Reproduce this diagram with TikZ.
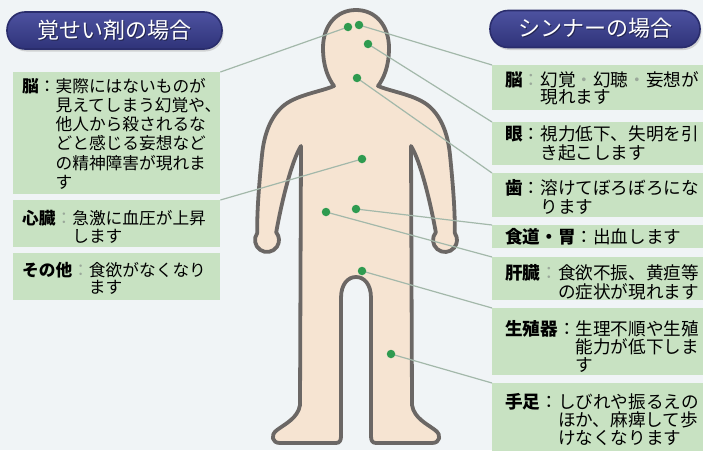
\documentclass[tikz,border=0pt]{standalone}
\usepackage{fontspec}
\setmainfont{Noto Sans CJK JP}
\usetikzlibrary{shadows}

\definecolor{bgc}{HTML}{F0F4F6}
\definecolor{skin}{HTML}{F6E4D2}
\definecolor{outlinec}{HTML}{6B6765}
\definecolor{boxg}{HTML}{C8E2C2}
\definecolor{dotg}{HTML}{2F9B50}
\definecolor{connc}{HTML}{A3B8AA}
\definecolor{pilltop}{HTML}{4D52A0}
\definecolor{pillmid}{HTML}{7479BF}
\definecolor{pillbot}{HTML}{2F3379}
\definecolor{pillrim}{HTML}{2A2D6C}
\definecolor{pillshade}{HTML}{23254F}
\definecolor{faintc}{HTML}{9AA89A}

% organ label with colon, and an invisible copy for indenting follow-up lines
\newcommand\organ[1]{\textbf{#1}：}
\newcommand\organf[1]{\textbf{#1}\textcolor{faintc}{：}}
\newcommand\organpad[1]{\phantom{\textbf{#1}：}}
\newcommand\faintdot{\textcolor{faintc}{・}}
% white heading text with a dark offset shadow
\newcommand\shtxt[1]{\rlap{\kern1.3pt\raisebox{-1.3pt}{\textcolor{pillshade}{#1}}}#1}

\pgfdeclarelayer{back}
\pgfdeclarelayer{front}
\pgfsetlayers{back,main,front}

\begin{document}
\begin{tikzpicture}[x=1pt,y=-1pt,
  conn/.style={draw=connc, line width=1.2pt},
  dot/.style={circle, fill=dotg, inner sep=0pt, minimum size=8.5pt},
  box/.style={fill=boxg, inner sep=0pt, anchor=north west},
  txt/.style={anchor=west, inner sep=0pt, align=left},
  txL/.style={txt, font=\fontsize{16.7}{#1}\selectfont},
  txR/.style={txt, font=\fontsize{17.6}{#1}\selectfont},
  pill/.style={rounded corners=18pt, minimum height=37pt, inner sep=0pt,
    draw=pillrim, line width=1.6pt,
    top color=pilltop, middle color=pillmid, bottom color=pillbot,
    text=white, font=\fontsize{22}{22}\selectfont,
    drop shadow={shadow xshift=1.5pt, shadow yshift=-2.5pt, fill=black!30}},
  bodyline/.style={fill=skin, draw=outlinec, line width=3.8pt, line join=round}
]
\useasboundingbox (0,0) rectangle (703,450);

\begin{pgfonlayer}{back}
\fill[bgc] (0,0) rectangle (703,450);
% human figure
\path[bodyline]
  (356,10) .. controls (336,10) and (323,26) .. (323,48)
  .. controls (323,66) and (328,78) .. (334,86)
  .. controls (320,92) and (295,95) .. (282,107)
  .. controls (270,118) and (264,135) .. (262,155)
  .. controls (259,185) and (257,210) .. (257.17,233.12)
  arc[start angle=215, end angle=-40, radius=12]
  .. controls (282,200) and (292,160) .. (301,146)
  -- (300,405)
  .. controls (298,418) and (285,424) .. (277,430)
  .. controls (270,435) and (272,443) .. (280,443)
  -- (336,443) .. controls (340,443) and (341,440) .. (341,436)
  -- (341,298) .. controls (341,284) and (348,277) .. (356,277)
  .. controls (364,277) and (371,284) .. (371,298)
  -- (371,436) .. controls (371,440) and (372,443) .. (376,443)
  -- (432,443) .. controls (440,443) and (442,435) .. (435,430)
  .. controls (427,424) and (414,418) .. (412,405)
  -- (411,146)
  .. controls (420,160) and (430,200) .. (435.81,232.29)
  arc[start angle=220, end angle=-35, radius=12]
  .. controls (455,210) and (453,185) .. (450,155)
  .. controls (448,135) and (442,118) .. (430,107)
  .. controls (417,95) and (392,92) .. (378,86)
  .. controls (384,78) and (389,66) .. (389,48)
  .. controls (389,26) and (376,10) .. (356,10) -- cycle;
\end{pgfonlayer}

% headings
\node[pill, minimum width=215pt] (hL) at (114.5,30.5) {\shtxt{覚せい剤の場合}};
\node[pill, minimum width=210pt] (hR) at (595,29) {\shtxt{シンナーの場合}};

% left boxes
\node[box, minimum width=207pt, minimum height=122pt] (bL1) at (13,72) {};
\node[box, minimum width=207pt, minimum height=47pt] (bL2) at (13,200) {};
\node[box, minimum width=207pt, minimum height=47pt] (bL3) at (13,253) {};

% right boxes
\node[box, minimum width=211pt, minimum height=45pt] (bR1) at (492,65) {};
\node[box, minimum width=211pt, minimum height=43pt] (bR2) at (492,122) {};
\node[box, minimum width=211pt, minimum height=44pt] (bR3) at (492,173) {};
\node[box, minimum width=211pt, minimum height=23pt] (bR4) at (492,225) {};
\node[box, minimum width=211pt, minimum height=43pt] (bR5) at (492,257) {};
\node[box, minimum width=211pt, minimum height=67pt] (bR6) at (492,308) {};
\node[box, minimum width=211pt, minimum height=70pt] (bR7) at (492,383) {};

% texts, left
\node[txL=19.3] (tL1) at (22,134) {\organ{脳}実際にはないものが\\
  \organpad{脳}見えてしまう幻覚や、\\
  \organpad{脳}他人から殺されるな\\
  \organpad{脳}どと感じる妄想など\\
  \organpad{脳}の精神障害が現れま\\
  \organpad{脳}す};
\node[txL=17.4] (tL2) at (22,227) {\organf{心臓}急激に血圧が上昇\\
  \organpad{心臓}します};
\node[txL=17] (tL3) at (22,278.4) {\organf{その他}食欲がなくなり\\
  \organpad{その他}ます};

% texts, right
\node[txR=17] (tR1) at (505,88.4) {\organf{脳}幻覚\faintdot 幻聴\faintdot 妄想が\\
  \organpad{脳}現れます};
\node[txR=19] (tR2) at (505,143.5) {\organ{眼}視力低下、失明を引\\
  \organpad{眼}き起こします};
\node[txR=19] (tR3) at (505,197.5) {\organ{歯}溶けてぼろぼろにな\\
  \organpad{歯}ります};
\node[txR=18] (tR4) at (505,237) {\organ{食道・胃}出血します};
\node[txR=19] (tR5) at (505,282.5) {\organf{肝臓}食欲不振、黄疸等\\
  \organpad{肝臓}の症状が現れます};
\node[txR=18] (tR6) at (505,347) {\organ{生殖器}生理不順や生殖\\
  \organpad{生殖器}能力が低下しま\\
  \organpad{生殖器}す};
\node[txR=18] (tR7) at (505,420) {\organ{手足}しびれや振るえの\\
  \organpad{手足}ほか、麻痺して歩\\
  \organpad{手足}けなくなります};

% organ markers
\begin{pgfonlayer}{front}
\node[dot] (dA) at (348,27) {};
\node[dot] (dB) at (359,25) {};
\node[dot] (dC) at (368,44) {};
\node[dot] (dD) at (357,78) {};
\node[dot] (dE) at (362,159) {};
\node[dot] (dF) at (326,212) {};
\node[dot] (dG) at (356,209) {};
\node[dot] (dH) at (362,271) {};
\node[dot] (dI) at (391,354) {};
\end{pgfonlayer}

% leader lines
\draw[conn] (dA.center) -- (bL1.north east);
\draw[conn] (dE.center) -- (bL2.north east);
\draw[conn] (dB.center) -- (bR1.north west);
\draw[conn] (dC.center) -- (bR2.north west);
\draw[conn] (dD.center) -- (bR3.north west);
\draw[conn] (dG.center) -- (bR4.north west);
\draw[conn] (dF.center) -- (bR5.north west);
\draw[conn] (dH.center) -- (bR6.north west);
\draw[conn] (dI.center) -- (bR7.north west);
\end{tikzpicture}
\end{document}
